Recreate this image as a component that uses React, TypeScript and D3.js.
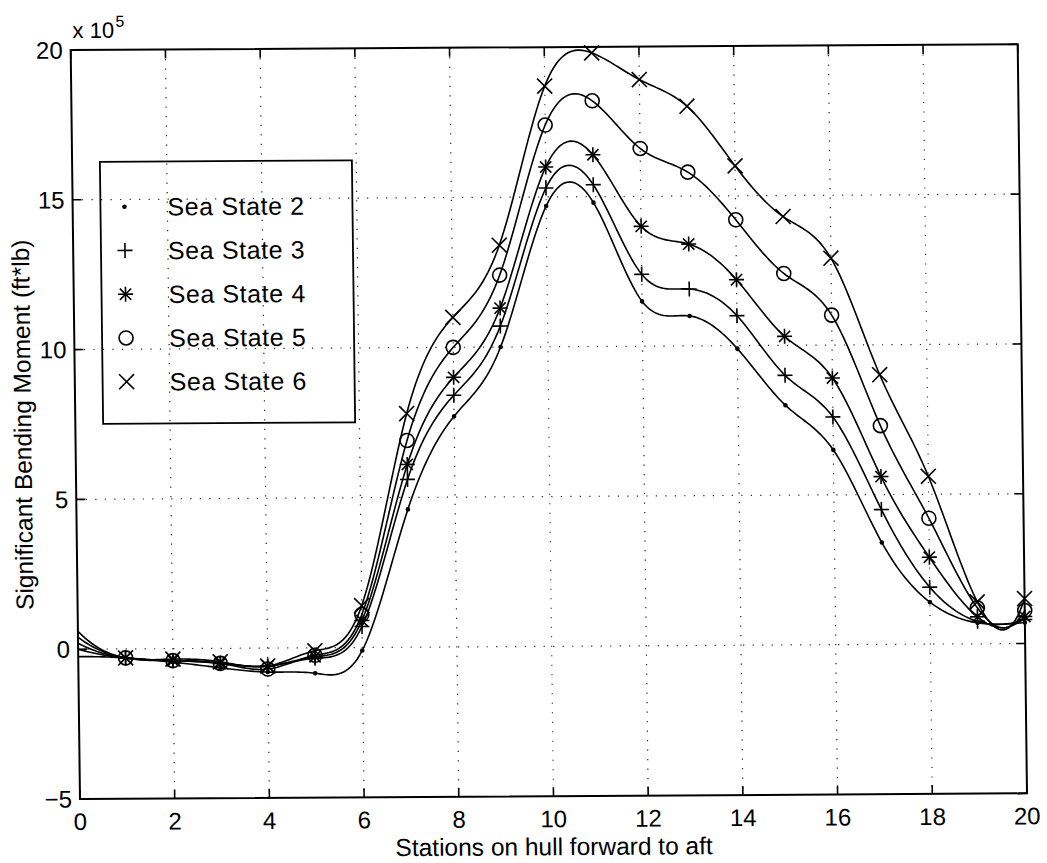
import React from 'react';
import * as d3 from 'd3';

const stations = [0, 1, 2, 3, 4, 5, 6, 7, 8, 9, 10, 11, 12, 13, 14, 15, 16, 17, 18, 19, 20];
const seaState2 = [-0.25, -0.3, -0.45, -0.65, -0.8, -0.85, -0.1, 4.6, 7.7, 10.0, 14.7, 14.8, 11.5, 11.0, 9.9, 8.0, 6.5, 3.4, 1.4, 0.7, 0.7];
const seaState3 = [0.0, -0.3, -0.4, -0.5, -0.6, -0.35, 0.7, 5.6, 8.4, 10.7, 15.3, 15.4, 12.4, 11.9, 11.0, 9.0, 7.6, 4.5, 1.9, 0.75, 0.8];
const seaState4 = [0.2, -0.3, -0.4, -0.5, -0.6, -0.3, 0.9, 6.1, 9.0, 11.3, 16.0, 16.4, 14.0, 13.4, 12.2, 10.3, 8.9, 5.6, 2.9, 0.9, 0.9];
const seaState5 = [0.4, -0.3, -0.4, -0.5, -0.7, -0.25, 1.1, 6.9, 10.0, 12.4, 17.4, 18.2, 16.6, 15.8, 14.2, 12.4, 11.0, 7.3, 4.2, 1.2, 1.1];
const seaState6 = [0.6, -0.3, -0.35, -0.45, -0.6, -0.1, 1.4, 7.8, 11.0, 13.4, 18.7, 19.8, 18.9, 18.0, 16.0, 14.3, 12.9, 9.0, 5.6, 1.4, 1.5];

const legendLabels = ['Sea State 2', 'Sea State 3', 'Sea State 4', 'Sea State 5', 'Sea State 6'];
const markerKinds = ['dot', 'plus', 'star', 'circle', 'cross'];
const xTicks = [0, 2, 4, 6, 8, 10, 12, 14, 16, 18, 20];
const yTicks = [-5, 0, 5, 10, 15, 20];
const xLabel = 'Stations on hull forward to aft';
const yLabel = 'Significant Bending Moment (ft*lb)';

const seriesValues = [seaState2, seaState3, seaState4, seaState5, seaState6];

const FONT = 'Liberation Sans, Arial, Helvetica, sans-serif';

// not-a-knot cubic spline (uniform knots), like MATLAB's spline()
function splineSampler(xs: number[], ys: number[]) {
  const n = xs.length;
  const h = xs[1] - xs[0];
  const A: number[][] = [];
  const r: number[] = [];
  for (let i = 0; i < n; i++) {
    const row = new Array(n).fill(0);
    if (i === 0) {
      row[0] = 1; row[1] = -2; row[2] = 1; r.push(0);
    } else if (i === n - 1) {
      row[n - 3] = 1; row[n - 2] = -2; row[n - 1] = 1; r.push(0);
    } else {
      row[i - 1] = 1; row[i] = 4; row[i + 1] = 1;
      r.push((6 / (h * h)) * (ys[i - 1] - 2 * ys[i] + ys[i + 1]));
    }
    A.push(row);
  }
  for (let k = 0; k < n; k++) {
    let p = k;
    for (let i = k + 1; i < n; i++) if (Math.abs(A[i][k]) > Math.abs(A[p][k])) p = i;
    [A[k], A[p]] = [A[p], A[k]];
    [r[k], r[p]] = [r[p], r[k]];
    for (let i = k + 1; i < n; i++) {
      const f = A[i][k] / A[k][k];
      if (f === 0) continue;
      for (let j = k; j < n; j++) A[i][j] -= f * A[k][j];
      r[i] -= f * r[k];
    }
  }
  const M = new Array(n).fill(0);
  for (let i = n - 1; i >= 0; i--) {
    let s = r[i];
    for (let j = i + 1; j < n; j++) s -= A[i][j] * M[j];
    M[i] = s / A[i][i];
  }
  return (x: number) => {
    const i = Math.min(n - 2, Math.max(0, Math.floor((x - xs[0]) / h)));
    const a = (xs[i + 1] - x) / h;
    const b = (x - xs[i]) / h;
    return a * ys[i] + b * ys[i + 1] + ((a * a * a - a) * M[i] + (b * b * b - b) * M[i + 1]) * (h * h) / 6;
  };
}

function Marker({ kind, x, y }: { kind: string; x: number; y: number }) {
  const s = 7.5;
  const st = { stroke: '#000', strokeWidth: 1.6, fill: 'none' };
  if (kind === 'dot') return <circle cx={x} cy={y} r={2.3} fill="#000" />;
  if (kind === 'plus')
    return (
      <g {...st}>
        <line x1={x - s} y1={y} x2={x + s} y2={y} />
        <line x1={x} y1={y - s} x2={x} y2={y + s} />
      </g>
    );
  if (kind === 'cross')
    return (
      <g {...st}>
        <line x1={x - s} y1={y - s} x2={x + s} y2={y + s} />
        <line x1={x - s} y1={y + s} x2={x + s} y2={y - s} />
      </g>
    );
  if (kind === 'star') {
    const d = s * 0.75;
    return (
      <g {...st}>
        <line x1={x - s} y1={y} x2={x + s} y2={y} />
        <line x1={x} y1={y - s} x2={x} y2={y + s} />
        <line x1={x - d} y1={y - d} x2={x + d} y2={y + d} />
        <line x1={x - d} y1={y + d} x2={x + d} y2={y - d} />
      </g>
    );
  }
  return <circle cx={x} cy={y} r={7} {...st} />;
}

export default function App() {
  const W = 1047;
  const H = 863;
  const left = 70.7;
  const top = 50;
  const pw = 947;
  const ph = 749;
  const x = d3.scaleLinear().domain([0, 20]).range([left, left + pw]);
  const y = d3.scaleLinear().domain([-5, 20]).range([top + ph, top]);

  const fine = d3.range(0, 20.0001, 0.05);
  const line = d3
    .line<[number, number]>()
    .x((d) => x(d[0]))
    .y((d) => y(d[1]));

  // skew of the scanned page
  const b = -0.006;
  const c = 0.0124;
  const tf = `matrix(1,${b},${c},1,${-c * top},${-b * left})`;

  const tickLen = 9;
  const legX = 98.5;
  const legY = 162;
  const legW = 252;
  const legH = 262;
  const rowGap = 43.75;

  return (
    <svg width={W} height={H} style={{ position: 'absolute', left: 0, top: 0, background: '#fff' }}>
      <rect x={0} y={0} width={W} height={H} fill="#fff" />
      <g transform={tf} fontFamily={FONT}>
        <g stroke="#222" strokeWidth={1.2} strokeDasharray="1.2,8.3">
          {xTicks.slice(1, -1).map((t) => (
            <line key={'gx' + t} x1={x(t)} x2={x(t)} y1={top} y2={top + ph} />
          ))}
          {yTicks.slice(1, -1).map((t) => (
            <line key={'gy' + t} x1={left} x2={left + pw} y1={y(t)} y2={y(t)} />
          ))}
        </g>
        <g stroke="#000" strokeWidth={1.6}>
          {xTicks.map((t) => (
            <g key={'tx' + t}>
              <line x1={x(t)} x2={x(t)} y1={top + ph} y2={top + ph - tickLen} />
              <line x1={x(t)} x2={x(t)} y1={top} y2={top + tickLen} />
            </g>
          ))}
          {yTicks.map((t) => (
            <g key={'ty' + t}>
              <line x1={left} x2={left + tickLen} y1={y(t)} y2={y(t)} />
              <line x1={left + pw} x2={left + pw - tickLen} y1={y(t)} y2={y(t)} />
            </g>
          ))}
        </g>
        <rect x={left} y={top} width={pw} height={ph} fill="none" stroke="#000" strokeWidth={2} />

        {seriesValues.map((vals, si) => {
          const f = splineSampler(stations, vals);
          const pts = fine.map((t) => [t, f(t)] as [number, number]);
          return (
            <g key={'s' + si}>
              <path d={line(pts) || ''} fill="none" stroke="#000" strokeWidth={1.6} />
              {vals.map((v, i) =>
                stations[i] >= 1 ? <Marker key={i} kind={markerKinds[si]} x={x(stations[i])} y={y(v)} /> : null
              )}
            </g>
          );
        })}

        <rect x={legX} y={legY} width={legW} height={legH} fill="none" stroke="#000" strokeWidth={1.8} />
        {legendLabels.map((lab, i) => {
          const cy = legY + 45 + i * rowGap;
          return (
            <g key={'l' + i}>
              <Marker kind={markerKinds[i]} x={legX + 24} y={cy} />
              <text x={legX + 67} y={cy} dominantBaseline="central" fontSize={25} letterSpacing={0.6} fill="#000">
                {lab}
              </text>
            </g>
          );
        })}

        {xTicks.map((t) => (
          <text key={'xl' + t} x={x(t)} y={top + ph + 31} textAnchor="middle" fontSize={24} fill="#000">
            {t}
          </text>
        ))}
        {yTicks.map((t) => (
          <text
            key={'yl' + t}
            x={left - 8}
            y={y(t)}
            textAnchor="end"
            dominantBaseline="central"
            fontSize={24}
            fill="#000"
          >
            {t < 0 ? '\u2212' + Math.abs(t) : t}
          </text>
        ))}
        <text x={left + 2} y={38} fontSize={22} fill="#000">
          x 10
        </text>
        <text x={left + 45} y={27} fontSize={16} fill="#000">
          5
        </text>

        <text x={left + pw / 2} y={top + ph + 59} textAnchor="middle" fontSize={24.5} fill="#000">
          {xLabel}
        </text>
        <text
          transform={`translate(${18},${top + ph / 2}) rotate(-90)`}
          textAnchor="middle"
          dominantBaseline="central"
          fontSize={24.5}
          fill="#000"
        >
          {yLabel}
        </text>
      </g>
    </svg>
  );
}
